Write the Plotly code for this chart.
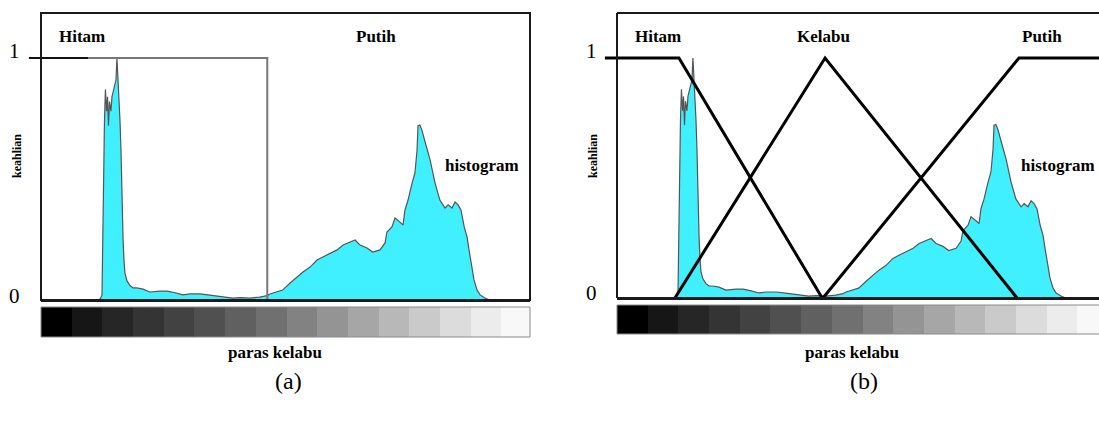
import plotly.graph_objects as go

# ---------------- data ----------------
gray_level = [29.7, 30.8, 31.8, 32.3, 33.1, 33.6, 34.2, 34.7, 35.2, 35.7, 36.5, 37.0, 37.5, 38.1, 38.6,
              39.1, 39.6, 40.2, 40.7, 41.2, 41.7, 42.2, 42.8, 43.3, 43.8, 44.8, 46.4, 48.0, 50.0, 53.2,
              56.8, 62.0, 65.7, 70.0, 74.0, 77.7, 83.0, 88.0, 91.8, 96.0, 100.0, 103.8, 109.0, 114.0,
              117.9, 119.4, 123.0, 126.0, 129.9, 133.5, 136.6, 140.3, 143.9, 147.0, 150.7, 154.4, 157.5,
              161.1, 163.8, 166.4, 170.0, 173.0, 176.8, 179.4, 180.4, 183.0, 184.6, 187.2, 188.8, 189.8,
              191.4, 193.5, 195.0, 196.1, 196.6, 197.6, 198.7, 200.3, 202.9, 205.5, 208.0, 210.7, 212.3,
              214.3, 215.9, 217.5, 219.0, 220.7, 222.2, 223.2, 224.8, 225.8, 227.4, 229.0, 231.5, 234.0]
frequency = [0, 0.004, 0.02, 0.41, 0.74, 0.87, 0.78, 0.84, 0.72, 0.82, 0.78, 0.84, 0.86, 0.87, 0.89,
             0.91, 1.0, 0.92, 0.84, 0.74, 0.62, 0.41, 0.25, 0.16, 0.11, 0.08, 0.06, 0.05, 0.05, 0.045,
             0.033, 0.037, 0.037, 0.03, 0.021, 0.025, 0.025, 0.02, 0.017, 0.012, 0.008, 0.01, 0.008, 0.012,
             0.018, 0.025, 0.033, 0.041, 0.07, 0.095, 0.116, 0.136, 0.165, 0.178, 0.194, 0.207, 0.227,
             0.24, 0.248, 0.227, 0.215, 0.198, 0.207, 0.236, 0.281, 0.302, 0.339, 0.322, 0.31, 0.372,
             0.413, 0.483, 0.525, 0.62, 0.72, 0.723, 0.70, 0.653, 0.579, 0.483, 0.413, 0.38, 0.393,
             0.38, 0.405, 0.393, 0.372, 0.302, 0.26, 0.207, 0.136, 0.083, 0.041, 0.021, 0.008, 0]

# (a) crisp sets
crisp_tick_x = [-6.3, 24.5]
crisp_tick_y = [1, 1]
crisp_hitam_x = [0, 118, 118]
crisp_hitam_y = [1, 1, 0]

# (b) fuzzy sets
hitam_x = [-6.3, 32.3, 107.0]
hitam_y = [1, 1, 0]
kelabu_x = [30.2, 108.5, 208.6]
kelabu_y = [0, 1, 0]
putih_x = [107.4, 209.6, 260.0]
putih_y = [0, 1, 1]

# grey-level bar
gray_edges = [0, 16, 32, 48, 64, 80, 96, 112, 128, 144, 160, 176, 192, 208, 224, 240, 256]
gray_values = [0, 22, 38, 52, 66, 80, 96, 112, 130, 148, 166, 184, 202, 220, 236, 248]

# ---------------- layout helpers ----------------
W, H = 1099, 421
def fx(p):
    return p / W
def fy(p):
    return 1 - p / H

def g_a(p):  # pixel -> grey level, panel a
    return (p - 41) * 255 / 489
def v_a(p):
    return (300 - p) / 242
def g_b(p):
    return (p - 617) * 255 / 489
def v_b(p):
    return (298 - p) / 240

CYAN = "#40F0FF"
fig = go.Figure()

for xa, ya in [("x", "y"), ("x2", "y2")]:
    fig.add_trace(go.Scatter(x=gray_level, y=frequency, mode="lines", fill="tozeroy",
                             fillcolor=CYAN, line=dict(color="#555555", width=1.2),
                             xaxis=xa, yaxis=ya, showlegend=False, hoverinfo="skip"))

fig.add_trace(go.Scatter(x=crisp_hitam_x, y=crisp_hitam_y, mode="lines",
                         line=dict(color="#777777", width=2), xaxis="x", yaxis="y",
                         showlegend=False))
fig.add_trace(go.Scatter(x=crisp_tick_x, y=crisp_tick_y, mode="lines",
                         line=dict(color="#111111", width=2), xaxis="x", yaxis="y",
                         showlegend=False))

for xs, ys in [(hitam_x, hitam_y), (kelabu_x, kelabu_y), (putih_x, putih_y)]:
    fig.add_trace(go.Scatter(x=xs, y=ys, mode="lines", line=dict(color="#000000", width=3),
                             xaxis="x2", yaxis="y2", showlegend=False))

for xa, ya in [("x", "y3"), ("x2", "y4")]:
    fig.add_trace(go.Heatmap(x=gray_edges, y=[0, 1], z=[gray_values], zmin=0, zmax=255,
                             colorscale=[[0, "#000000"], [1, "#ffffff"]], showscale=False,
                             xaxis=xa, yaxis=ya, hoverinfo="skip"))

ax_hidden = dict(visible=False, showgrid=False, zeroline=False, fixedrange=True)
fig.update_layout(
    width=W, height=H, margin=dict(l=0, r=0, t=0, b=0),
    paper_bgcolor="white", plot_bgcolor="rgba(0,0,0,0)",
    xaxis=dict(domain=[fx(25), fx(530)], range=[g_a(25), g_a(530)], anchor="y", **ax_hidden),
    yaxis=dict(domain=[fy(304), fy(13)], range=[v_a(304), v_a(13)], anchor="x", **ax_hidden),
    xaxis2=dict(domain=[fx(600), 1], range=[g_b(600), g_b(1099)], anchor="y2", **ax_hidden),
    yaxis2=dict(domain=[fy(302), fy(13)], range=[v_b(302), v_b(13)], anchor="x2", **ax_hidden),
    yaxis3=dict(domain=[fy(337), fy(307)], range=[0, 1], anchor="x", **ax_hidden),
    yaxis4=dict(domain=[fy(334), fy(305)], range=[0, 1], anchor="x2", **ax_hidden),
)

FR = "#1a1a1a"
shapes = [
    # frame a
    dict(type="rect", xref="paper", yref="paper", x0=fx(41), x1=fx(530), y0=fy(300), y1=fy(13),
         line=dict(color=FR, width=2)),
    dict(type="line", xref="paper", yref="paper", x0=fx(41), x1=fx(530), y0=fy(300.5), y1=fy(300.5),
         line=dict(color=FR, width=3)),
    # bar border a
    dict(type="rect", xref="paper", yref="paper", x0=fx(41), x1=fx(530), y0=fy(337), y1=fy(307),
         line=dict(color="#8a8a8a", width=1)),
    # frame b
    dict(type="line", xref="paper", yref="paper", x0=fx(617), x1=1, y0=fy(13), y1=fy(13),
         line=dict(color=FR, width=2)),
    dict(type="line", xref="paper", yref="paper", x0=fx(617), x1=fx(617), y0=fy(13), y1=fy(298),
         line=dict(color=FR, width=2)),
    dict(type="line", xref="paper", yref="paper", x0=fx(617), x1=1, y0=fy(298.5), y1=fy(298.5),
         line=dict(color=FR, width=3)),
    dict(type="rect", xref="paper", yref="paper", x0=fx(617), x1=fx(1100), y0=fy(334), y1=fy(305),
         line=dict(color="#8a8a8a", width=1)),
]
fig.update_layout(shapes=shapes)

SERIF = "Liberation Serif"
def ann(text, x, y, size, bold=True, angle=0):
    t = f"<b>{text}</b>" if bold else text
    fig.add_annotation(text=t, x=fx(x), y=fy(y), xref="paper", yref="paper", showarrow=False,
                       xanchor="center", yanchor="middle", textangle=angle,
                       font=dict(family=SERIF, size=size, color="black"))

# panel a
ann("Hitam", 82, 37, 17)
ann("Putih", 376, 37, 17)
ann("histogram", 482, 165, 17)
ann("1", 14, 51, 21, bold=False)
ann("0", 14, 296, 21, bold=False)
ann("keahlian", 17, 156, 12, angle=-90)
ann("paras kelabu", 275, 352, 17)
ann("(a)", 288, 381, 24, bold=False)
# panel b
ann("Hitam", 658, 37, 17)
ann("Kelabu", 823, 37, 17)
ann("Putih", 1042, 37, 17)
ann("histogram", 1058, 165, 17)
ann("1", 591, 51, 21, bold=False)
ann("0", 591, 293, 21, bold=False)
ann("keahlian", 593, 156, 12, angle=-90)
ann("paras kelabu", 852, 352, 17)
ann("(b)", 864, 381, 24, bold=False)

fig.write_html("out.html", config={"displayModeBar": False, "staticPlot": True},
               post_script="document.body.style.margin='0';document.body.style.overflow='hidden';")
